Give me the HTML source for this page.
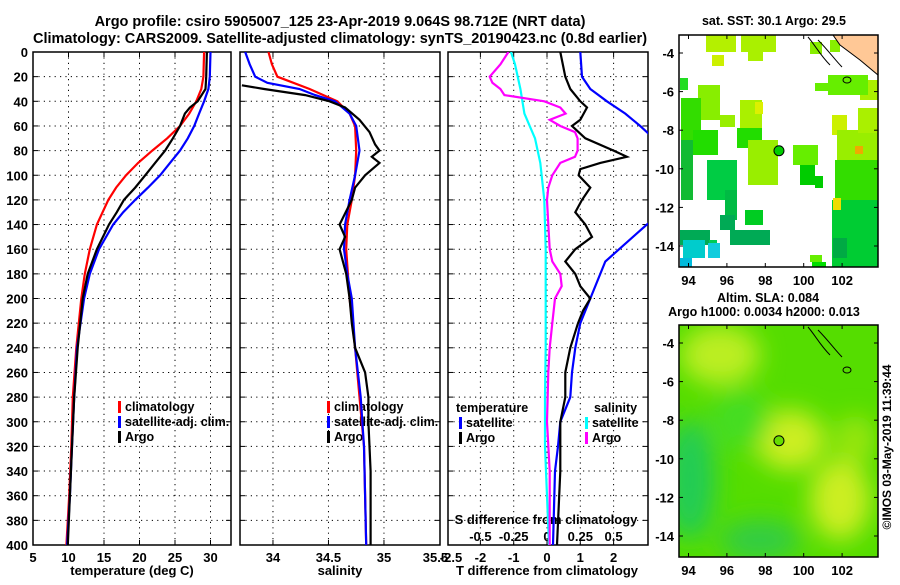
<!DOCTYPE html>
<html><head><meta charset="utf-8"><style>
body{margin:0;background:#fff;}
svg text{font-family:"Liberation Sans",sans-serif;font-weight:bold;fill:#000;}
</style></head><body>
<svg id="s" width="900" height="580" viewBox="0 0 900 580" xmlns="http://www.w3.org/2000/svg">
<defs>
<clipPath id="c1"><rect x="33" y="52" width="198" height="493"/></clipPath>
<clipPath id="c2"><rect x="240" y="52" width="200" height="493"/></clipPath>
<clipPath id="c3"><rect x="448" y="52" width="200" height="493"/></clipPath>
<clipPath id="m1"><rect x="679" y="35" width="199" height="232"/></clipPath>
<clipPath id="m2"><rect x="679" y="325" width="199" height="232"/></clipPath>
<filter id="bl"><feGaussianBlur stdDeviation="12"/></filter>
</defs>
<text x="340" y="26" font-size="14.5" text-anchor="middle">Argo profile: csiro 5905007_125 23-Apr-2019 9.064S 98.712E (NRT data)</text>
<text x="340" y="43" font-size="14.5" text-anchor="middle">Climatology: CARS2009. Satellite-adjusted climatology: synTS_20190423.nc (0.8d earlier)</text>
<g id="plots"></g>
<g id="maps"></g>
</svg>
<script>
// depth axis
const depthTicks=[0,20,40,60,80,100,120,140,160,180,200,220,240,260,280,300,320,340,360,380,400];
// panel 1 temperature
const tempTicks=[5,10,15,20,25,30];
const climDepth=[0,20,30,40,50,60,70,80,90,100,110,120,140,160,180,200,240,280,320,360,400];
const climTemp=[29.1,29.0,28.7,28.0,27.0,25.7,23.9,21.8,19.8,18.1,16.7,15.6,14.0,13.0,12.3,11.8,11.1,10.6,10.4,10.1,9.7];
const satDepth=[0,20,30,40,50,60,70,80,90,100,110,120,130,140,160,180,200,240,280,320,360,400];
const satTemp=[30.0,29.9,29.7,29.1,28.4,27.7,26.8,25.7,24.3,22.9,21.2,19.4,17.7,16.3,14.3,13.0,12.2,11.2,10.8,10.5,10.2,9.8];
const argoDepth=[0,20,30,40,45,50,60,70,80,90,100,110,120,130,140,160,180,200,240,280,320,360,400];
const argoTemp=[29.5,29.4,29.3,28.2,27.1,26.4,25.7,24.7,23.6,22.2,20.8,19.4,17.8,16.8,15.7,14.0,12.7,12.0,11.3,10.8,10.5,10.2,9.9];
// panel 2 salinity
const salTicks=[34,34.5,35,35.5];
const climSalDepth=[0,10,20,30,40,50,60,80,100,120,140,160,200,240,280,320,360,400];
const climSal=[33.96,33.99,34.04,34.33,34.58,34.69,34.74,34.75,34.74,34.71,34.67,34.66,34.69,34.74,34.78,34.82,34.83,34.84];
const satSalDepth=[0,10,20,25,30,35,40,50,60,80,100,120,140,160,180,200,240,280,320,360,400];
const satSal=[33.75,33.79,33.84,33.95,34.24,34.38,34.56,34.69,34.75,34.78,34.74,34.69,34.65,34.64,34.67,34.71,34.74,34.79,34.82,34.83,34.84];
const argoSalDepth=[27,30,35,40,45,55,65,75,80,85,90,100,110,120,140,150,160,180,200,220,240,260,280,300,340,400];
const argoSal=[33.72,33.92,34.29,34.51,34.65,34.78,34.87,34.92,34.96,34.89,34.96,34.83,34.74,34.71,34.60,34.65,34.60,34.66,34.69,34.71,34.74,34.83,34.86,34.86,34.88,34.88];
// panel 3 differences
const tDiffTicks=[-2.5,-2,-1,0,1,2];
const sDiffTicks=[-0.5,-0.25,0,0.25,0.5];
const satTDiffDepth=[0,20,30,40,50,60,70,80,100,120,140,170,200,220,240,260,280,300,320,340,400];
const satTDiff=[1.0,1.05,1.3,1.8,2.35,2.8,3.2,4.0,5.0,4.2,3.0,1.75,1.3,1.0,0.85,0.75,0.7,0.4,0.33,0.24,0.18];
const argoTDiffDepth=[0,20,30,40,45,55,60,70,80,85,90,95,100,110,120,130,140,150,160,170,180,190,200,210,220,240,260,280,300,340,400];
const argoTDiff=[0.4,0.55,0.7,1.0,1.2,1.0,0.75,1.15,2.0,2.4,1.6,1.0,0.95,1.3,1.05,0.85,1.15,1.35,0.85,0.55,0.85,1.0,1.3,1.08,0.93,0.7,0.55,0.55,0.4,0.4,0.3];
const satSDiffDepth=[0,10,30,50,70,90,120,160,200,240,280,320,360,400];
const satSDiff=[-0.27,-0.24,-0.2,-0.17,-0.09,-0.05,-0.02,-0.01,-0.01,-0.01,-0.015,-0.015,0,0.015];
const argoSDiffDepth=[0,10,20,25,30,35,40,45,50,55,60,65,70,80,85,90,100,110,120,140,160,170,180,190,200,220,240,260,300,340,400];
const argoSDiff=[-0.29,-0.35,-0.43,-0.41,-0.35,-0.32,-0.02,0.1,0.14,0.02,0.1,0.21,0.23,0.23,0.21,0.1,0.04,0.01,0,0.01,0.02,0.04,0.1,0.11,0.06,0.04,0.02,0.01,0,0.02,0.02];

const NS='http://www.w3.org/2000/svg';
const G=document.getElementById('plots');
function el(t,a,p){const e=document.createElementNS(NS,t);for(const k in a)e.setAttribute(k,a[k]);(p||G).appendChild(e);return e;}
const Y0=52,Y1=545;
const TY=562,LY=575;
const yS=d=>Y0+(d/400)*(Y1-Y0);
const x1=t=>33+(t-5)*7.1;
const x2=s=>240+(s-33.703)*111;
const x3=t=>547+t*33.3;
const x3s=s=>547+s*133.2;

function frame(L,R,name){
  const g=el('g',{});
  
  
  depthTicks.forEach(d=>{const y=yS(d);
    if(d>0&&d<400)el('line',{x1:L,x2:R,y1:y,y2:y,stroke:'#000','stroke-dasharray':'1.2,4.2','stroke-width':1},g);
    el('line',{x1:L,x2:L+5,y1:y,y2:y,stroke:'#000'},g);el('line',{x1:R-5,x2:R,y1:y,y2:y,stroke:'#000'},g);});
  return g;
}
function vgrid(g,xs){xs.forEach(x=>{el('line',{x1:x,x2:x,y1:Y0,y2:Y1,stroke:'#000','stroke-dasharray':'1.2,4.2'},g);el('line',{x1:x,x2:x,y1:Y0,y2:Y0+5,stroke:'#000'},g);el('line',{x1:x,x2:x,y1:Y1-5,y2:Y1,stroke:'#000'},g);});}
function border(g,L,R){el('rect',{x:L,y:Y0,width:R-L,height:Y1-Y0,fill:'none',stroke:'#000','stroke-width':1.5},g);}
function line(ds,vs,fx,color,clip,name,w){
  const pts=ds.map((d,i)=>fx(vs[i]).toFixed(1)+','+yS(d).toFixed(1)).join(' ');
  const p=el('polyline',{points:pts,fill:'none',stroke:color,'stroke-width':w||2.2,'clip-path':'url(#'+clip+')'});
  
  
}
function txt(x,y,s,anchor,size,g){const t=el('text',{x:x,y:y,'font-size':size||13,'text-anchor':anchor||'middle'},g);t.textContent=s;return t;}
function legend(x,y,items,g){items.forEach((it,i)=>{el('rect',{x:x,y:y+i*15-10,width:3,height:12,fill:it[1]},g);const t=txt(x+7,y+i*15,it[0],'start',12.5,g);});}

// panel 1
let g1=frame(33,231,'temperature-panel');
vgrid(g1,tempTicks.filter(t=>t>5).map(x1));
depthTicks.forEach(d=>{const t=txt(28,yS(d)+5,String(d),'end',13,g1);});
tempTicks.forEach(t=>txt(x1(t),TY,String(t),'middle',13,g1));
txt(132,LY,'temperature (deg C)','middle',13,g1);
line(climDepth,climTemp,x1,'#f00','c1','climatology-temp-line');
line(satDepth,satTemp,x1,'#00f','c1','satellite-temp-line');
line(argoDepth,argoTemp,x1,'#000','c1','argo-temp-line');
legend(118,411,[['climatology','#f00'],['satellite-adj. clim.','#00f'],['Argo','#000']],g1);
border(g1,33,231);

// panel 2
let g2=frame(240,440,'salinity-panel');
vgrid(g2,[34,34.5,35].map(x2));
salTicks.forEach(s=>txt(x2(s)-(s===35.5?4:0),TY,String(s),'middle',13,g2));
txt(340,LY,'salinity','middle',13,g2);
line(climSalDepth,climSal,x2,'#f00','c2','climatology-salinity-line');
line(satSalDepth,satSal,x2,'#00f','c2','satellite-salinity-line');
line(argoSalDepth,argoSal,x2,'#000','c2','argo-salinity-line');
legend(327,411,[['climatology','#f00'],['satellite-adj. clim.','#00f'],['Argo','#000']],g2);
border(g2,240,440);

// panel 3
let g3=frame(448,648,'difference-panel');
vgrid(g3,[-2,-1,0,1,2].map(x3));
tDiffTicks.forEach(t=>txt(t===-2.5?451:x3(t),TY,String(t),'middle',13,g3));
txt(547,LY,'T difference from climatology','middle',13,g3);
line(satSDiffDepth,satSDiff,x3s,'#0ff','c3','satellite-s-diff-line');
line(argoSDiffDepth,argoSDiff,x3s,'#f0f','c3','argo-s-diff-line');
line(satTDiffDepth,satTDiff,x3,'#00f','c3','satellite-t-diff-line');
line(argoTDiffDepth,argoTDiff,x3,'#000','c3','argo-t-diff-line');
txt(546,524,'S difference from climatology','middle',13,g3);
sDiffTicks.forEach(s=>txt(x3s(s),541,String(s),'middle',13,g3));
txt(456,412,'temperature','start',12.5,g3);
legend(459,427,[['satellite','#00f'],['Argo','#000']],g3);
txt(594,412,'salinity','start',12.5,g3);
legend(585,427,[['satellite','#0ff'],['Argo','#f0f']],g3);
border(g3,448,648);

// maps
const M=document.getElementById('maps');
const lonTicks=[94,96,98,100,102];
const latTicks=[-4,-6,-8,-10,-12,-14];
const mx=lon=>688.5+(lon-94)*19.2;
function mapFrame(top,name,clip){
  const g=el('g',{},M);
  const my=lat=>top+18+(-4-lat)*19.3;
  return {g,my};
}
function mapAxes(g,top,my){
  el('rect',{x:679,y:top,width:199,height:232,fill:'none',stroke:'#000','stroke-width':1.5},g);
  lonTicks.forEach(l=>{const x=mx(l);el('line',{x1:x,x2:x,y1:top,y2:top+4,stroke:'#000'},g);el('line',{x1:x,x2:x,y1:top+228,y2:top+232,stroke:'#000'},g);txt(x,top+250,String(l),'middle',13,g);});
  latTicks.forEach(l=>{const y=my(l);el('line',{x1:679,x2:683,y1:y,y2:y,stroke:'#000'},g);el('line',{x1:874,x2:878,y1:y,y2:y,stroke:'#000'},g);txt(674,y+5,String(l),'end',13,g);});
}
// map 1 SST
let a=mapFrame(35,'sst-map');
const g4=a.g,my1=a.my;
el('rect',{x:679,y:35,width:199,height:232,fill:'#fff'},g4);
const cells1=[[706,35,30,17,'#b4f000'],[741,35,35,17,'#aaf000'],[712,55,12,11,'#ccf000'],[748,52,15,9,'#aaf000'],[680,78,8,12,'#22dd22'],
[698,85,22,35,'#88ee00'],[681,98,20,45,'#33dd00'],[720,115,15,12,'#99ee00'],[740,100,22,42,'#aaf000'],[755,102,8,12,'#ddf000'],
[681,140,12,60,'#11bb33'],[693,130,25,25,'#22dd00'],[707,160,30,40,'#00cc44'],[737,128,25,20,'#22dd00'],[748,140,30,45,'#99ee00'],
[725,190,12,30,'#00bb44'],[720,215,15,15,'#00aa55'],[745,210,18,15,'#00cc22'],[730,230,30,15,'#00aa55'],[680,230,30,15,'#00aa55'],
[683,240,22,18,'#00cccc'],[709,240,8,18,'#00cc55'],[708,243,12,15,'#11ccdd'],[680,258,12,9,'#00bbdd'],[760,230,10,15,'#00aa55'],
[793,145,25,20,'#66ee00'],[800,165,15,20,'#00cc00'],[815,176,8,12,'#00cc00'],[832,115,15,20,'#ccf000'],[837,130,41,40,'#99ee00'],
[835,160,43,50,'#33dd00'],[832,200,46,67,'#00cc33'],[833,238,14,20,'#00aa44'],[812,262,14,5,'#00dd00'],[810,255,12,7,'#66ee00'],
[858,108,20,25,'#aaf000'],[860,80,18,20,'#aaf000'],[828,75,40,20,'#66ee00'],[815,83,15,8,'#66ee00'],[810,42,12,12,'#88ee00'],[830,40,10,12,'#88ee00'],[833,198,8,12,'#eedd00'],[855,146,8,8,'#eeaa00']];
cells1.forEach(c=>el('rect',{x:c[0],y:c[1],width:c[2],height:c[3],fill:c[4],'clip-path':'url(#m1)'},g4));
el('polygon',{points:'833,35 878,35 878,75 860,60 840,45',fill:'#ffc896',stroke:'#000'},g4);
el('path',{d:'M808,37 C815,45 820,55 830,65 M818,40 C828,50 835,60 842,67',fill:'none',stroke:'#000','stroke-width':1},g4);
el('ellipse',{cx:847,cy:80,rx:4,ry:3,fill:'none',stroke:'#000'},g4);
const d1=el('circle',{cx:mx(98.712),cy:my1(-9.064),r:5,fill:'#00cc00',stroke:'#000'},g4);

mapAxes(g4,35,my1);
txt(774,25,'sat. SST: 30.1 Argo: 29.5','middle',12.5,g4);
// map 2 SLA
let b=mapFrame(325,'sla-map');
const g5=b.g,my2=b.my;
el('rect',{x:679,y:325,width:199,height:232,fill:'#55dd00'},g5);
const blobs=[[720,355,40,30,'#bbee22'],[790,440,35,30,'#ccee22'],[840,500,30,40,'#ccee22'],[855,440,20,25,'#99e611'],[690,480,25,60,'#22cc55'],[760,540,40,20,'#33cc44'],[740,420,30,30,'#44dd22']];
const gb=el('g',{filter:'url(#bl)','clip-path':'url(#m2)'},g5);
blobs.forEach(c=>el('ellipse',{cx:c[0],cy:c[1],rx:c[2],ry:c[3],fill:c[4]},gb));
el('path',{d:'M808,327 C815,335 820,345 830,355 M818,330 C828,340 835,350 842,357',fill:'none',stroke:'#000','stroke-width':1},g5);
el('ellipse',{cx:847,cy:370,rx:4,ry:3,fill:'none',stroke:'#000'},g5);
el('circle',{cx:mx(98.712),cy:my2(-9.064),r:5,fill:'#66dd00',stroke:'#000'},g5);
mapAxes(g5,325,my2);
txt(768,302,'Altim. SLA: 0.084','middle',12.5,g5);
txt(764,316,'Argo h1000: 0.0034 h2000: 0.013','middle',12.5,g5);
const cr=txt(0,0,'©IMOS 03-May-2019 11:39:44','middle',12,M);
cr.setAttribute('transform','translate(891,447) rotate(-90)');
cr.setAttribute('font-weight','normal');


</script>
</body></html>
